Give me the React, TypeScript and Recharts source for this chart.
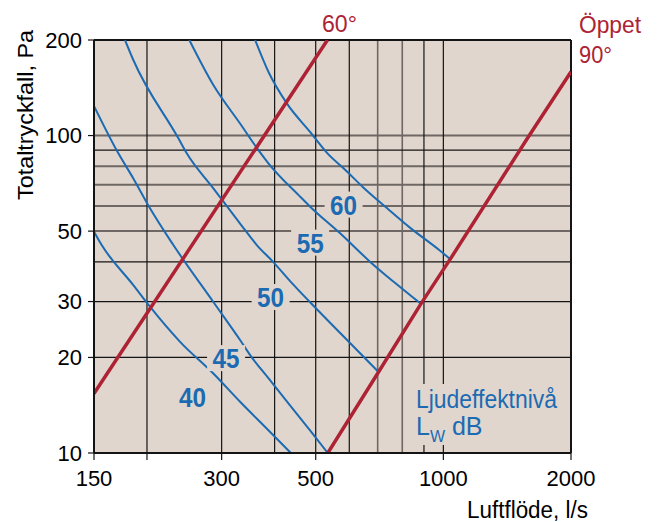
import React from 'react';
import { ComposedChart, Line, XAxis, YAxis, CartesianGrid, ReferenceLine, Scatter } from 'recharts';

const X_DOMAIN: [number, number] = [150, 2000];
const Y_DOMAIN: [number, number] = [10, 200];
const X_TICKS = [150, 200, 300, 500, 1000, 2000];
const X_TICK_LABELS = ['150', '', '300', '500', '1000', '2000'];
const Y_TICKS = [10, 20, 30, 50, 100, 200];
const Y_TICK_LABELS = ['10', '20', '30', '50', '100', '200'];

const GRID_X_DARK = [200, 300, 400, 500, 600, 900, 1000];
const GRID_X_GRAY = [700, 800];
const GRID_Y_DARK = [20, 30, 40, 90];
const GRID_Y_GRAY = [50, 60, 70, 80, 100];

// Sound power level curves (flow l/s, pressure Pa)
const LW40 = [[150, 49.8], [156.4, 45.2], [185.7, 33.8], [203.3, 28.9], [239.4, 22.4], [286.8, 17.8], [331.6, 14.5], [386.7, 11.8], [436.8, 10]];
const LW45 = [[150, 123.9], [171.2, 87.9], [185.7, 73.3], [203.3, 59], [230.8, 45.2], [286.8, 29.9], [331.6, 22.7], [350.2, 20.35], [386.7, 17.2], [484.3, 11.8], [534, 10]];
const LW50 = [[177.5, 200], [185.7, 173], [237.2, 98], [248.2, 87.9], [286.8, 68.2], [331.6, 52.8], [363.1, 45.2], [396.7, 40], [435.1, 34.8], [484.3, 29.9], [578, 23.5], [703.3, 18]];
const LW55 = [[251.7, 200], [286.8, 144.3], [331.6, 109.1], [366.3, 90], [386.7, 81.8], [459.4, 64.2], [485.1, 59.7], [570.9, 49.2], [672.3, 40], [770, 34.3], [885.2, 29.5]];
const LW60 = [[359.8, 200], [386.7, 158.9], [427.4, 126.3], [484.3, 102.9], [532.9, 87.9], [586.6, 78.05], [648.3, 68.5], [736, 59.1], [835.3, 51.2], [977.7, 43.6], [1038, 40.8]];

// Damper position lines
const DAMPER60 = [[150, 15.4], [532.9, 200]];
const DAMPER90 = [[534, 10], [703.3, 18], [885.2, 29.5], [1038, 40.8], [1574.6, 97.5], [2000, 158.9]];

// Curve labels
const CURVE_LABELS = ['40', '45', '50', '55', '60'];
const CURVE_LABEL_X = [256.2, 307.3, 391.4, 485.1, 581.8];
const CURVE_LABEL_Y = [15.06, 19.9, 31.0, 46.0, 60.6];

const BG = '#e1d6ce';
const BLUE = '#1c6bb2';
const RED = '#ad2334';
const DARK = '#141414';
const GRAY = '#6e6763';
const FONT = 'Liberation Sans, Arial, Helvetica, sans-serif';

const toPts = (arr: number[][]) => arr.map(([x, y]) => ({ x, y }));
const labelData = CURVE_LABELS.map((label, i) => ({ x: CURVE_LABEL_X[i], y: CURVE_LABEL_Y[i], label }));

const LabelShape = (props: any) => {
  const { cx, cy, payload } = props;
  if (cx == null || cy == null) return null;
  return (
    <g>
      <rect x={cx - 19} y={cy - 13} width={38} height={26} fill={BG} />
      <text
        x={cx}
        y={cy + 10}
        textAnchor="middle"
        fontSize={28}
        fontWeight="bold"
        fill={BLUE}
        fontFamily={FONT}
        textLength={27}
        lengthAdjust="spacingAndGlyphs"
      >
        {payload.label}
      </text>
    </g>
  );
};

const curves = [LW40, LW45, LW50, LW55, LW60];

export default function App() {
  return (
    <div style={{ position: 'relative', width: 650, height: 514 }}>
      <ComposedChart
        width={650}
        height={514}
        margin={{ top: 32, right: 87, bottom: 29, left: 16 }}
      >
        <CartesianGrid fill={BG} horizontal={false} vertical={false} stroke="none" />
        <XAxis
          dataKey="x"
          type="number"
          scale="log"
          domain={X_DOMAIN}
          allowDataOverflow
          ticks={X_TICKS}
          interval={0}
          height={40}
          tickFormatter={(v: number) => X_TICK_LABELS[X_TICKS.indexOf(v)] ?? ''}
          tick={{ fontSize: 22, fill: '#000', fontFamily: FONT }}
          tickSize={7}
          tickMargin={10}
          tickLine={{ stroke: DARK, strokeWidth: 1.2 }}
          axisLine={{ stroke: DARK, strokeWidth: 2 }}
        />
        <YAxis
          dataKey="y"
          type="number"
          scale="log"
          domain={Y_DOMAIN}
          allowDataOverflow
          ticks={Y_TICKS}
          interval={0}
          width={70}
          tickFormatter={(v: number) => Y_TICK_LABELS[Y_TICKS.indexOf(v)] ?? ''}
          tick={{ fontSize: 22, fill: '#000', fontFamily: FONT }}
          tickSize={6}
          tickMargin={6}
          tickLine={{ stroke: DARK, strokeWidth: 1.2 }}
          axisLine={{ stroke: DARK, strokeWidth: 2 }}
        />
        {GRID_Y_GRAY.map((v) => (
          <ReferenceLine key={'yg' + v} y={v} stroke={GRAY} strokeWidth={2} />
        ))}
        {GRID_X_GRAY.map((v) => (
          <ReferenceLine key={'xg' + v} x={v} stroke={GRAY} strokeWidth={1.6} />
        ))}
        {GRID_Y_DARK.map((v) => (
          <ReferenceLine key={'yd' + v} y={v} stroke={DARK} strokeWidth={1.2} />
        ))}
        {GRID_X_DARK.map((v) => (
          <ReferenceLine key={'xd' + v} x={v} stroke={DARK} strokeWidth={1.2} />
        ))}
        <ReferenceLine y={200} stroke={DARK} strokeWidth={2} />
        <ReferenceLine x={2000} stroke={DARK} strokeWidth={2} />
        {curves.map((c, i) => (
          <Line
            key={'c' + i}
            data={toPts(c)}
            dataKey="y"
            type="monotone"
            stroke={BLUE}
            strokeWidth={2}
            dot={false}
            isAnimationActive={false}
          />
        ))}
        <Line data={toPts(DAMPER60)} dataKey="y" type="linear" stroke={RED} strokeWidth={3.5} dot={false} isAnimationActive={false} />
        <Line data={toPts(DAMPER90)} dataKey="y" type="linear" stroke={RED} strokeWidth={3.5} dot={false} isAnimationActive={false} />
        <Scatter data={labelData} dataKey="y" shape={LabelShape} isAnimationActive={false} />
      </ComposedChart>
      <svg
        width={650}
        height={514}
        style={{ position: 'absolute', left: 0, top: 0, pointerEvents: 'none' }}
      >
        <text
          transform="translate(24.5,107) rotate(-90)"
          textAnchor="middle"
          fontSize={22}
          fontFamily={FONT}
          fill="#000"
          textLength={170}
          lengthAdjust="spacingAndGlyphs"
        >
          Totaltryckfall, Pa
        </text>
        <text x={459} y={510} fontSize={23} fontFamily={FONT} fill="#000" textLength={121} lengthAdjust="spacingAndGlyphs">
          Luftflöde, l/s
        </text>
        <text x={314} y={24.3} fontSize={24} fontFamily={FONT} fill={RED} textLength={35} lengthAdjust="spacingAndGlyphs">
          60°
        </text>
        <text x={571} y={25} fontSize={24} fontFamily={FONT} fill={RED} textLength={62} lengthAdjust="spacingAndGlyphs">
          Öppet
        </text>
        <text x={571} y={55} fontSize={24} fontFamily={FONT} fill={RED} textLength={33} lengthAdjust="spacingAndGlyphs">
          90°
        </text>
        <rect x={402} y={376} width={150} height={61} fill={BG} />
        <text x={408} y={400.3} fontSize={25} fontFamily={FONT} fill={BLUE} textLength={141} lengthAdjust="spacingAndGlyphs">
          Ljudeffektnivå
        </text>
        <text x={408} y={427} fontSize={25} fontFamily={FONT} fill={BLUE}>
          L<tspan fontSize={16} dy={7}>W</tspan>
          <tspan dy={-7}> dB</tspan>
        </text>
      </svg>
    </div>
  );
}
